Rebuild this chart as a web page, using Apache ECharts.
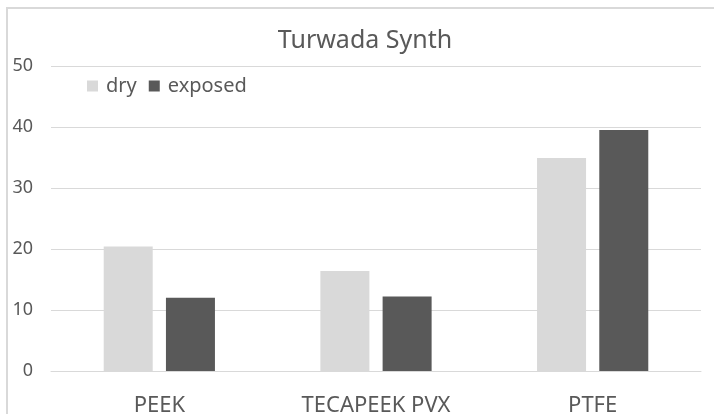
<!DOCTYPE html>
<html>
<head>
<meta charset="utf-8">
<script src="https://cdn.jsdelivr.net/npm/echarts@6/dist/echarts.min.js"></script>
<style>
  html, body { margin: 0; padding: 0; background: #fff; }
  #chart { width: 714px; height: 414px; }
</style>
</head>
<body>
<div id="chart"></div>
<script>
// chart data
var categories = ["PEEK", "TECAPEEK PVX", "PTFE"];
var dryValues = [20.4, 16.4, 34.9];
var exposedValues = [12.0, 12.2, 39.5];
var yTicks = { min: 0, max: 50, interval: 10 };

var textColor = "#595959";
var gridColor = "#D9D9D9";
var fontFamily = "'Noto Sans', 'Open Sans', sans-serif";

var chart = echarts.init(document.getElementById("chart"));

var option = {
  animation: false,
  // outer frame of the chart area
  graphic: [
    {
      type: "rect",
      shape: { x: 7, y: 8, width: 740, height: 440 },
      style: { fill: "none", stroke: gridColor, lineWidth: 2 },
      silent: true,
    },
  ],
  title: {
    text: "Turwada Synth",
    left: 365,
    textAlign: "center",
    top: 28,
    padding: 0,
    textStyle: {
      color: textColor,
      fontFamily: fontFamily,
      fontSize: 25,
      fontWeight: "normal",
    },
  },
  legend: {
    data: ["dry", "exposed"],
    left: 87,
    top: 76,
    padding: 0,
    itemWidth: 11,
    itemHeight: 11,
    itemGap: 12,
    icon: "rect",
    textStyle: {
      color: textColor,
      fontFamily: fontFamily,
      fontSize: 20,
      padding: [0, 0, 0, 3],
    },
  },
  grid: {
    left: 51,
    right: 13,
    top: 66,
    bottom: 43,
    outerBoundsMode: "none", // keep plot area fixed, labels may run off the bottom
  },
  xAxis: {
    type: "category",
    data: categories,
    axisLine: { show: true, lineStyle: { color: gridColor, width: 1 } },
    axisTick: { show: false },
    axisLabel: {
      color: textColor,
      fontFamily: fontFamily,
      fontSize: 22,
      margin: 24,
    },
  },
  yAxis: {
    type: "value",
    min: yTicks.min,
    max: yTicks.max,
    interval: yTicks.interval,
    axisLine: { show: false },
    axisTick: { show: false },
    axisLabel: {
      color: textColor,
      fontFamily: fontFamily,
      fontSize: 18,
      margin: 18,
    },
    splitLine: {
      show: true,
      lineStyle: { color: gridColor, width: 1, type: "solid" },
    },
  },
  series: [
    {
      name: "dry",
      type: "bar",
      barWidth: 49,
      barGap: "27%",
      data: dryValues,
      itemStyle: { color: "#D9D9D9" },
    },
    {
      name: "exposed",
      type: "bar",
      barWidth: 49,
      barGap: "27%",
      data: exposedValues,
      itemStyle: { color: "#595959" },
    },
  ],
};

chart.setOption(option);
</script>
</body>
</html>
